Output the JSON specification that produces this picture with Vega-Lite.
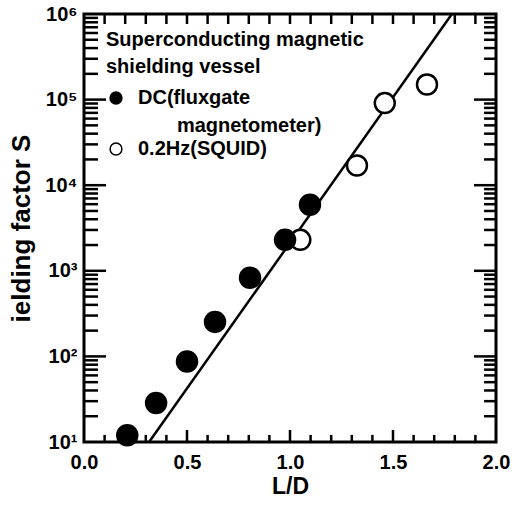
{
  "$schema": "https://vega.github.io/schema/vega-lite/v6.json",
  "autosize": "none",
  "width": 412,
  "height": 428,
  "padding": {"left": 84, "top": 14, "right": 23, "bottom": 69},
  "background": "white",
  "config": {
    "view": {"stroke": "black", "strokeWidth": 3},
    "axis": {
      "domain": false,
      "grid": false,
      "ticks": false,
      "labelFont": "Liberation Sans",
      "labelFontWeight": "bold",
      "labelFontSize": 20,
      "labelColor": "black",
      "titleFont": "Liberation Sans",
      "titleFontWeight": "bold",
      "titleFontSize": 25,
      "titleColor": "black"
    },
    "legend": {
      "titleFont": "Liberation Sans",
      "labelFont": "Liberation Sans"
    },
    "style": {"guide-label": {"lineHeight": 28}}
  },
  "datasets": {
    "pts": [
      {"L_D": 0.21, "S": 12, "method": "DC(fluxgate magnetometer)"},
      {"L_D": 0.35, "S": 28.6, "method": "DC(fluxgate magnetometer)"},
      {"L_D": 0.50, "S": 87, "method": "DC(fluxgate magnetometer)"},
      {"L_D": 0.636, "S": 253, "method": "DC(fluxgate magnetometer)"},
      {"L_D": 0.806, "S": 830, "method": "DC(fluxgate magnetometer)"},
      {"L_D": 1.05, "S": 2300, "method": "0.2Hz(SQUID)"},
      {"L_D": 1.325, "S": 17000, "method": "0.2Hz(SQUID)"},
      {"L_D": 1.46, "S": 91000, "method": "0.2Hz(SQUID)"},
      {"L_D": 1.665, "S": 150000, "method": "0.2Hz(SQUID)"},
      {"L_D": 0.976, "S": 2300, "method": "DC(fluxgate magnetometer)"},
      {"L_D": 1.097, "S": 5900, "method": "DC(fluxgate magnetometer)"}
    ],
    "fit": [
      {"L_D": 0.316, "S": 10},
      {"L_D": 1.786, "S": 1000000}
    ],
    "xticks": [
      {"L_D": 0.1, "major": false}, {"L_D": 0.2, "major": false}, {"L_D": 0.3, "major": false}, {"L_D": 0.4, "major": false},
      {"L_D": 0.5, "major": true},
      {"L_D": 0.6, "major": false}, {"L_D": 0.7, "major": false}, {"L_D": 0.8, "major": false}, {"L_D": 0.9, "major": false},
      {"L_D": 1.0, "major": true},
      {"L_D": 1.1, "major": false}, {"L_D": 1.2, "major": false}, {"L_D": 1.3, "major": false}, {"L_D": 1.4, "major": false},
      {"L_D": 1.5, "major": true},
      {"L_D": 1.6, "major": false}, {"L_D": 1.7, "major": false}, {"L_D": 1.8, "major": false}, {"L_D": 1.9, "major": false}
    ],
    "yticks": [
      {"S": 20, "major": false}, {"S": 30, "major": false}, {"S": 40, "major": false}, {"S": 50, "major": false}, {"S": 60, "major": false}, {"S": 70, "major": false}, {"S": 80, "major": false}, {"S": 90, "major": false},
      {"S": 100, "major": true},
      {"S": 200, "major": false}, {"S": 300, "major": false}, {"S": 400, "major": false}, {"S": 500, "major": false}, {"S": 600, "major": false}, {"S": 700, "major": false}, {"S": 800, "major": false}, {"S": 900, "major": false},
      {"S": 1000, "major": true},
      {"S": 2000, "major": false}, {"S": 3000, "major": false}, {"S": 4000, "major": false}, {"S": 5000, "major": false}, {"S": 6000, "major": false}, {"S": 7000, "major": false}, {"S": 8000, "major": false}, {"S": 9000, "major": false},
      {"S": 10000, "major": true},
      {"S": 20000, "major": false}, {"S": 30000, "major": false}, {"S": 40000, "major": false}, {"S": 50000, "major": false}, {"S": 60000, "major": false}, {"S": 70000, "major": false}, {"S": 80000, "major": false}, {"S": 90000, "major": false},
      {"S": 100000, "major": true},
      {"S": 200000, "major": false}, {"S": 300000, "major": false}, {"S": 400000, "major": false}, {"S": 500000, "major": false}, {"S": 600000, "major": false}, {"S": 700000, "major": false}, {"S": 800000, "major": false}, {"S": 900000, "major": false}
    ]
  },
  "layer": [
    {
      "data": {"name": "fit"},
      "mark": {"type": "line", "stroke": "black", "strokeWidth": 2.5},
      "encoding": {
        "x": {"field": "L_D", "type": "quantitative", "scale": {"domain": [0, 2], "nice": false, "zero": false},
          "axis": {"orient": "bottom", "values": [0, 0.5, 1, 1.5, 2], "format": ".1f", "labelPadding": 10, "title": "L/D", "titlePadding": 3, "titleFontSize": 23, "labelFlush": false}},
        "y": {"field": "S", "type": "quantitative", "scale": {"type": "log", "domain": [10, 1000000], "nice": false},
          "axis": {"orient": "left", "values": [10, 100, 1000, 10000, 100000, 1000000], "labelPadding": 7,
            "labelExpr": "'10' + ['⁰','¹','²','³','⁴','⁵','⁶'][round(log(datum.value)/LN10)]",
            "title": "ielding factor S", "titlePadding": 10, "titleFontSize": 26}}
      }
    },
    {
      "data": {"name": "xticks"},
      "transform": [{"filter": "!datum.major"}],
      "mark": {"type": "rule", "stroke": "black", "strokeWidth": 2.5},
      "encoding": {
        "x": {"field": "L_D", "type": "quantitative"},
        "y": {"datum": 10, "type": "quantitative"},
        "y2": {"datum": 12.1}
      }
    },
    {
      "data": {"name": "xticks"},
      "transform": [{"filter": "datum.major"}],
      "mark": {"type": "rule", "stroke": "black", "strokeWidth": 2.5},
      "encoding": {
        "x": {"field": "L_D", "type": "quantitative"},
        "y": {"datum": 10, "type": "quantitative"},
        "y2": {"datum": 13.8}
      }
    },
    {
      "data": {"name": "xticks"},
      "mark": {"type": "rule", "stroke": "black", "strokeWidth": 2.5},
      "encoding": {
        "x": {"field": "L_D", "type": "quantitative"},
        "y": {"datum": 1000000, "type": "quantitative"},
        "y2": {"datum": 764000}
      }
    },
    {
      "data": {"name": "yticks"},
      "transform": [{"filter": "datum.major"}],
      "mark": {"type": "rule", "stroke": "black", "strokeWidth": 2.5},
      "encoding": {
        "y": {"field": "S", "type": "quantitative"},
        "x": {"datum": 0, "type": "quantitative"},
        "x2": {"datum": 0.107}
      }
    },
    {
      "data": {"name": "yticks"},
      "transform": [{"filter": "!datum.major"}],
      "mark": {"type": "rule", "stroke": "black", "strokeWidth": 2.5},
      "encoding": {
        "y": {"field": "S", "type": "quantitative"},
        "x": {"datum": 0, "type": "quantitative"},
        "x2": {"datum": 0.068}
      }
    },
    {
      "data": {"name": "yticks"},
      "transform": [{"filter": "datum.major"}],
      "mark": {"type": "rule", "stroke": "black", "strokeWidth": 2.5},
      "encoding": {
        "y": {"field": "S", "type": "quantitative"},
        "x": {"datum": 2, "type": "quantitative"},
        "x2": {"datum": 1.893}
      }
    },
    {
      "data": {"name": "yticks"},
      "transform": [{"filter": "!datum.major"}],
      "mark": {"type": "rule", "stroke": "black", "strokeWidth": 2.5},
      "encoding": {
        "y": {"field": "S", "type": "quantitative"},
        "x": {"datum": 2, "type": "quantitative"},
        "x2": {"datum": 1.942}
      }
    },
    {
      "data": {"name": "pts"},
      "mark": {"type": "point", "filled": false, "shape": "circle", "size": 400, "stroke": "black", "strokeWidth": 2.5, "opacity": 1},
      "encoding": {
        "x": {"field": "L_D", "type": "quantitative"},
        "y": {"field": "S", "type": "quantitative"},
        "fill": {"field": "method", "type": "nominal",
          "scale": {"domain": ["DC(fluxgate magnetometer)", "0.2Hz(SQUID)"], "range": ["black", "white"]},
          "legend": {
            "orient": "none", "legendX": 22, "legendY": 16, "padding": 0,
            "title": ["Superconducting magnetic", "shielding vessel"],
            "titleFontSize": 20, "titleFontWeight": "bold", "titleColor": "black", "titleLineHeight": 27,
            "titleLimit": 500, "titlePadding": 11,
            "labelFontSize": 20, "labelFontWeight": "bold", "labelColor": "black",
            "labelExpr": "datum.label == 'DC(fluxgate magnetometer)' ? ['DC(fluxgate', '\u200b\u00a0\u00a0\u00a0\u00a0\u00a0\u00a0\u00a0magnetometer)'] : '0.2Hz(SQUID)'",
            "labelOffset": 12,
            "symbolSize": 140, "symbolStrokeColor": "black", "symbolStrokeWidth": 1.5, "symbolType": "circle",
            "rowPadding": 3, "labelLimit": 500
          }}
      }
    }
  ]
}
